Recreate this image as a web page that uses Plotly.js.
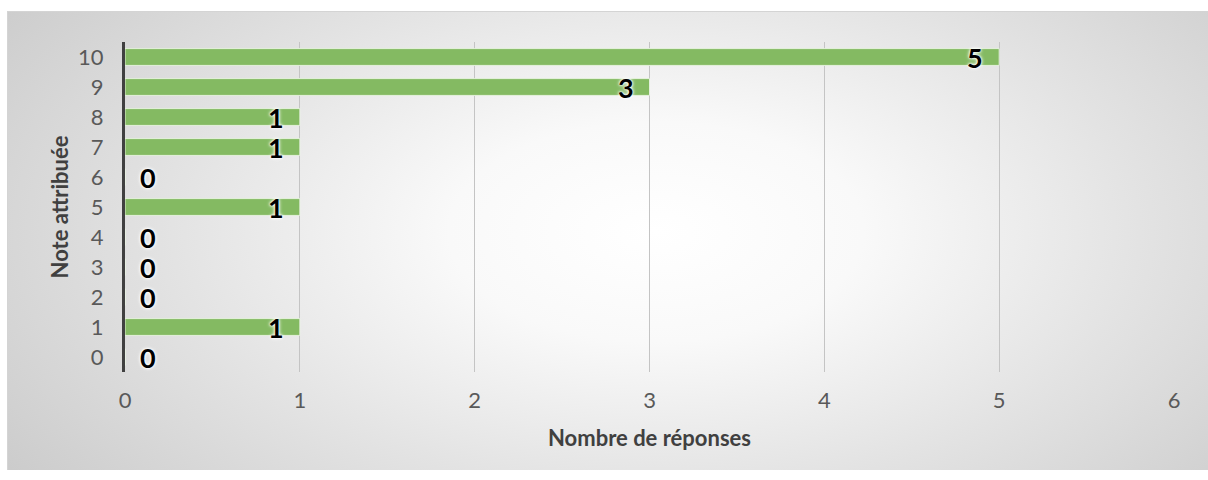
<!DOCTYPE html>
<html>
<head>
<meta charset="utf-8">
<script src="https://cdn.plot.ly/plotly-3.0.1.min.js"></script>
<style>
  html, body { margin: 0; padding: 0; background: #ffffff; width: 1208px; height: 480px; overflow: hidden; }
  #frame {
    position: absolute; left: 7px; top: 11px; width: 1201px; height: 459px;
    border-top: 1px solid #d4d4d4; border-left: 1px solid #d4d4d4; box-sizing: border-box;
    background: radial-gradient(ellipse 72% 100% at 54% 48%, #ffffff 0%, #f9f9f9 24%, #e3e3e3 56%, #c6c6c6 100%);
  }
  #chart { position: absolute; left: 0; top: 0; width: 1200px; height: 458px; }
</style>
</head>
<body>
<div id="frame"><div id="chart"></div></div>
<script>
const categories = ["0", "1", "2", "3", "4", "5", "6", "7", "8", "9", "10"];
const values = [0, 1, 0, 0, 0, 1, 0, 1, 1, 3, 5];
const xTickValues = [0, 1, 2, 3, 4, 5, 6];
const xTitle = "Nombre de réponses";
const yTitle = "Note attribuée";

const FONT = "Lato, sans-serif";

const trace = {
  type: "bar",
  orientation: "h",
  y: categories,
  x: values,
  width: 0.56,
  marker: { color: "#84ba62", line: { color: "rgba(235,245,228,0.9)", width: 1 } },
  hoverinfo: "none"
};

const annotations = values.map((v, i) => ({
  x: v,
  y: categories[i],
  xref: "x",
  yref: "y",
  text: String(v),
  showarrow: false,
  xanchor: v > 0 ? "right" : "left",
  xshift: v > 0 ? -14 : 13,
  yshift: 0,
  font: {
    family: FONT, size: 27, color: "#000000", weight: 700,
    shadow: "0 0 2px #fff, 0 0 3px #fff, 0 0 4px #fff"
  }
}));

const layout = {
  width: 1200,
  height: 458,
  margin: { l: 117, r: 34, t: 30, b: 98 },
  paper_bgcolor: "rgba(0,0,0,0)",
  plot_bgcolor: "rgba(0,0,0,0)",
  showlegend: false,
  font: { family: FONT, color: "#595959" },
  xaxis: {
    range: [0, 6],
    tickvals: xTickValues,
    ticktext: xTickValues.map(String),
    showgrid: true,
    gridcolor: "#c4c4c4",
    gridwidth: 1,
    zeroline: false,
    showline: false,
    ticks: "",
    ticklabelstandoff: 13,
    tickfont: { family: FONT, size: 22, color: "#595959" },
    title: { text: xTitle, standoff: 18, font: { family: FONT, size: 22, color: "#404040", weight: 700 } },
    fixedrange: true
  },
  yaxis: {
    type: "category",
    categoryorder: "array",
    categoryarray: categories,
    range: [-0.5, 10.5],
    showgrid: false,
    zeroline: false,
    showline: true,
    linecolor: "#404040",
    linewidth: 3,
    ticks: "",
    ticklabelstandoff: 14,
    tickfont: { family: FONT, size: 22, color: "#595959" },
    title: { text: yTitle, standoff: 4, font: { family: FONT, size: 22, color: "#404040", weight: 700 } },
    fixedrange: true
  },
  annotations: annotations
};

Plotly.newPlot("chart", [trace], layout, { displayModeBar: false, staticPlot: true });
</script>
</body>
</html>
